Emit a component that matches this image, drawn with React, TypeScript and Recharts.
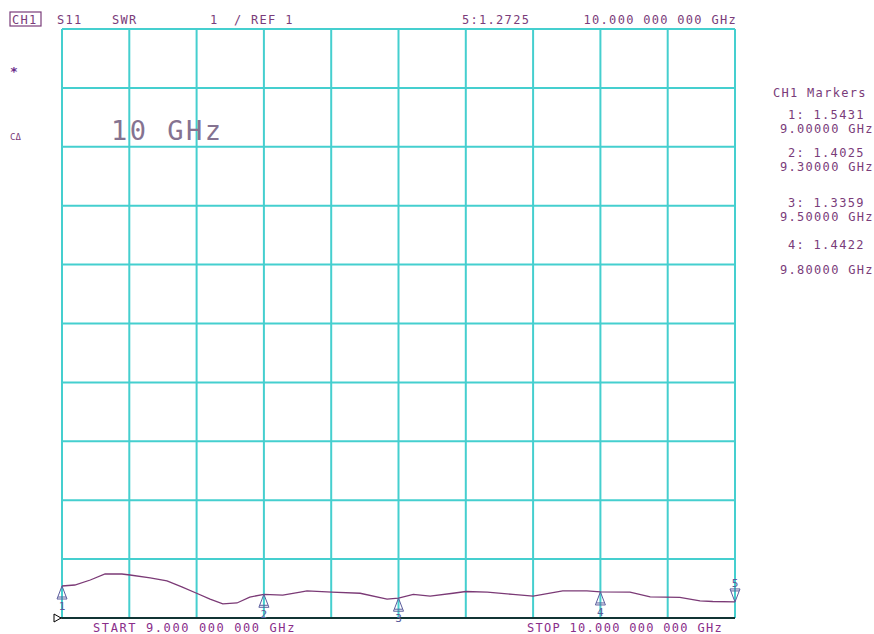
import React from 'react';
import {
  ComposedChart, Line, Scatter, XAxis, YAxis, CartesianGrid, ReferenceLine,
} from 'recharts';

// sweep 9 → 10 GHz, SWR
const freqs = [
  9.000, 9.019, 9.042, 9.064, 9.089, 9.101, 9.131, 9.156, 9.178, 9.200,
  9.220, 9.239, 9.260, 9.279, 9.300, 9.328, 9.354, 9.364, 9.401, 9.443,
  9.483, 9.500, 9.522, 9.547, 9.581, 9.600, 9.632, 9.670, 9.700, 9.744,
  9.780, 9.800, 9.844, 9.874, 9.918, 9.948, 9.967, 10.000,
];
const swr = [
  1.543, 1.56, 1.645, 1.747, 1.747, 1.73, 1.68, 1.63, 1.53, 1.42,
  1.32, 1.24, 1.255, 1.355, 1.4025, 1.39, 1.44, 1.46, 1.44, 1.42,
  1.32, 1.336, 1.40, 1.37, 1.42, 1.45, 1.44, 1.40, 1.37, 1.46,
  1.46, 1.442, 1.44, 1.36, 1.35, 1.29, 1.28, 1.2725,
];

const xTicks = [9.0, 9.1, 9.2, 9.3, 9.4, 9.5, 9.6, 9.7, 9.8, 9.9, 10.0];
const yTicks = [1, 2, 3, 4, 5, 6, 7, 8, 9, 10, 11];

const markerFreqs = [9.0, 9.3, 9.5, 9.8, 10.0];
const markerVals = [1.5431, 1.4025, 1.3359, 1.4422, 1.2725];
const markerNames = ['1', '2', '3', '4', '5'];
const markerLines = ['9.00000 GHz', '9.30000 GHz', '9.50000 GHz', '9.80000 GHz'];

const traceData = freqs.map((f, i) => ({ f, v: swr[i] }));
const markerData = markerFreqs.map((f, i) => ({ f, v: markerVals[i], name: markerNames[i], down: i === 4 }));

const MONO = '"DejaVu Sans Mono", monospace';
const GRID = '#45cfcf';
const TXT = '#7a3c7a';
const MK = '#5a5c9c';

const MarkerShape = (props: any) => {
  const { cx, cy, payload } = props;
  if (payload.down) {
    return (
      <g stroke={MK} fill="none" strokeWidth={1}>
        <polygon points={`${cx},${cy} ${cx - 5},${cy - 13} ${cx + 5},${cy - 13}`} />
        <line x1={cx - 4} y1={cy - 11} x2={cx + 4} y2={cy - 11} />
        <text x={cx} y={cy - 15} textAnchor="middle" fontFamily={MONO} fontSize={11} fill={MK} stroke="none">{payload.name}</text>
      </g>
    );
  }
  return (
    <g stroke={MK} fill="none" strokeWidth={1}>
      <polygon points={`${cx},${cy} ${cx - 5},${cy + 13} ${cx + 5},${cy + 13}`} />
      <line x1={cx - 4} y1={cy + 11} x2={cx + 4} y2={cy + 11} />
      <text x={cx} y={cy + 24} textAnchor="middle" fontFamily={MONO} fontSize={11} fill={MK} stroke="none">{payload.name}</text>
    </g>
  );
};

const RefArrow = (props: any) => {
  const { viewBox } = props;
  const x = viewBox.x, y = viewBox.y;
  return (
    <g>
      <line x1={x - 7} y1={y} x2={x} y2={y} stroke="#000" strokeWidth={1.5} />
      <polygon points={`${x - 8},${y - 4} ${x - 8},${y + 4} ${x - 1},${y}`} fill="#fff" stroke="#000" strokeWidth={1} />
    </g>
  );
};

export default function App() {
  const t = { fontFamily: MONO, fontSize: 12, letterSpacing: 1.3, fill: TXT };
  const valY = [119, 157, 207, 249];
  const ghzY = [133, 171, 221, 274];
  return (
    <div style={{ position: 'absolute', left: 0, top: 0, width: 874, height: 634, background: '#fff' }}>
      <ComposedChart width={874} height={634} data={traceData}
        margin={{ top: 29, right: 139, bottom: 16, left: 62 }}>
        <CartesianGrid stroke={GRID} strokeWidth={2} />
        <XAxis type="number" dataKey="f" domain={[9, 10]} ticks={xTicks} hide />
        <YAxis type="number" domain={[1, 11]} ticks={yTicks} hide />
        <ReferenceLine y={1} stroke="#000" strokeWidth={1.5} label={<RefArrow />} />
        <Line type="linear" dataKey="v" stroke="#7b3a76" strokeWidth={1.3} dot={false} isAnimationActive={false} />
        <Scatter data={markerData} dataKey="v" shape={<MarkerShape />} isAnimationActive={false} />
      </ComposedChart>

      <svg width={874} height={634} style={{ position: 'absolute', left: 0, top: 0, pointerEvents: 'none' }}>
        {/* header line */}
        <rect x={10} y={12} width={31} height={14} fill="none" stroke={TXT} strokeWidth={1.2} />
        <text x={12} y={24} {...t}>CH1</text>
        <text x={57} y={24} {...t}>S11</text>
        <text x={112} y={24} {...t}>SWR</text>
        <text x={210} y={24} {...t}>1</text>
        <text x={234} y={24} {...t}>/ REF 1</text>
        <text x={462} y={24} {...t}>5:1.2725</text>
        <text x={737} y={24} {...t} textAnchor="end">10.000 000 000 GHz</text>

        {/* left status */}
        <text x={10} y={76} fontFamily={MONO} fontSize={13} fontWeight="bold" fill="#6a2c8a">*</text>
        <text x={10} y={140} fontFamily={MONO} fontSize={9} fill={TXT}>CΔ</text>

        {/* title */}
        <text x={111} y={140} fontFamily={MONO} fontSize={27} letterSpacing={2.5} fill="#857391">10 GHz</text>

        {/* marker table */}
        <text x={773} y={97} {...t}>CH1 Markers</text>
        {markerVals.slice(0, 4).map((v, i) => (
          <g key={i}>
            <text x={788} y={valY[i]} {...t}>{`${markerNames[i]}: ${v.toFixed(4)}`}</text>
            <text x={780} y={ghzY[i]} {...t}>{markerLines[i]}</text>
          </g>
        ))}

        {/* footer */}
        <text x={93} y={632} {...t} letterSpacing={1.6} fill="#8a2e8a">START  9.000 000 000 GHz</text>
        <text x={723} y={632} {...t} fill="#8a2e8a" textAnchor="end">STOP 10.000 000 000 GHz</text>
      </svg>
    </div>
  );
}
